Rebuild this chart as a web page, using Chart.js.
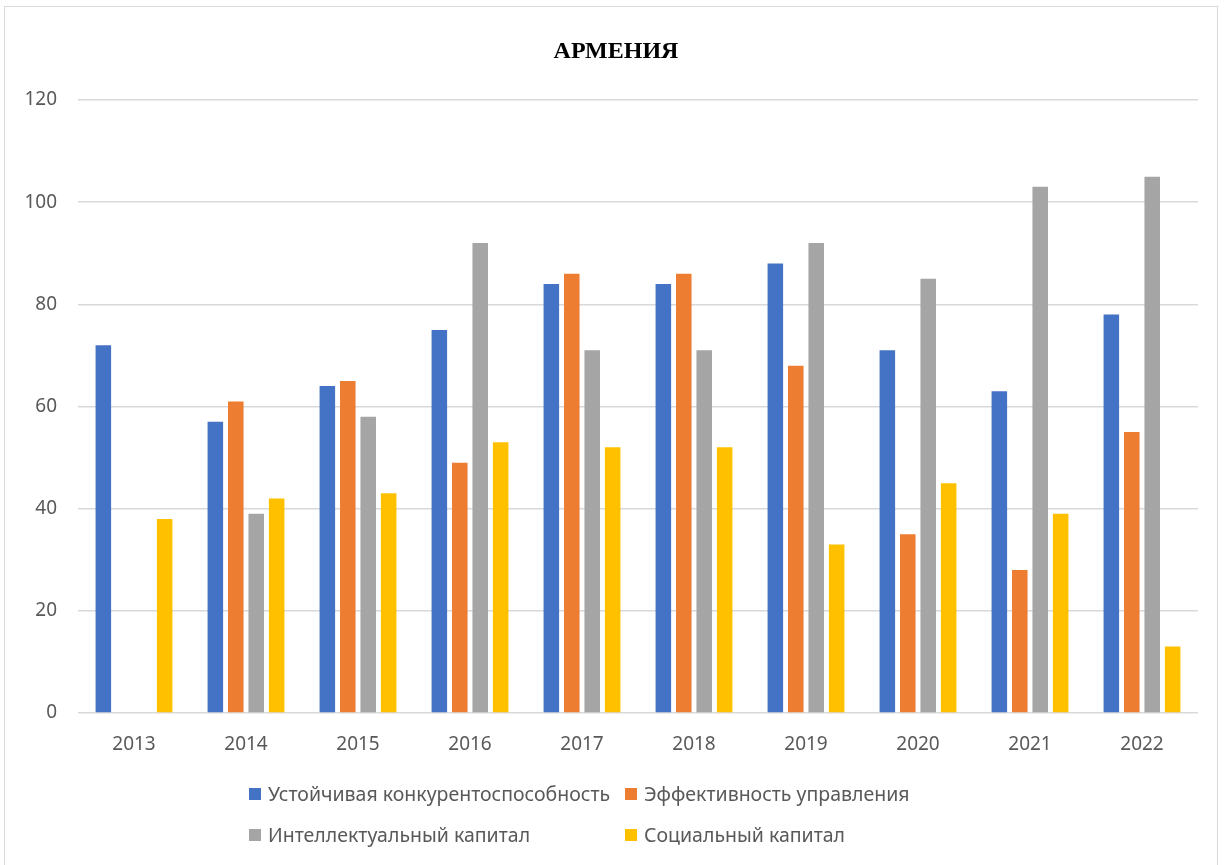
<!DOCTYPE html>
<html>
<head>
<meta charset="utf-8">
<script src="https://cdn.jsdelivr.net/npm/chart.js@4/dist/chart.umd.min.js"></script>
<style>
  html, body { margin: 0; padding: 0; background: #fff; }
  #wrap { position: relative; width: 1224px; height: 865px; overflow: hidden; }
  #frame { position: absolute; left: 4px; top: 6px; width: 1214px; height: 880px; border: 1px solid #d9d9d9; box-sizing: border-box; }
  #chart { position: absolute; left: 0; top: 0; }
  #legend { position: absolute; left: 249px; top: 780px; width: 800px; }
  .item { position: absolute; display: flex; align-items: center; white-space: nowrap;
          font-family: "Noto Sans", sans-serif; font-size: 19.5px; color: #595959; }
  .box { width: 12px; height: 12px; margin-right: 7px; }
</style>
</head>
<body>
<div id="wrap">
  <div id="frame"></div>
  <canvas id="chart" width="1224" height="865"></canvas>
  <div id="legend"></div>
</div>
<script>
// Данные диаграммы
const years = ['2013', '2014', '2015', '2016', '2017', '2018', '2019', '2020', '2021', '2022'];
const competitiveness = [72, 57, 64, 75, 84, 84, 88, 71, 63, 78];
const governance = [null, 61, 65, 49, 86, 86, 68, 35, 28, 55];
const intellectual = [null, 39, 58, 92, 71, 71, 92, 85, 103, 105];
const social = [38, 42, 43, 53, 52, 52, 33, 45, 39, 13];
const yTicks = [0, 20, 40, 60, 80, 100, 120];

const seriesNames = ['Устойчивая конкурентоспособность', 'Эффективность управления', 'Интеллектуальный капитал', 'Социальный капитал'];
const seriesColors = ['#4472C4', '#ED7D31', '#A5A5A5', '#FFC000'];
const seriesData = [competitiveness, governance, intellectual, social];
const titleText = 'АРМЕНИЯ';

// Заголовок рисуем сами: в оригинале он по центру всей рамки, а не области графика
const titlePlugin = {
    id: 'centerTitle',
    afterDraw(chart) {
        const c = chart.ctx;
        c.save();
        c.font = 'bold 24px "Liberation Serif"';
        c.fillStyle = '#000';
        c.textAlign = 'center';
        c.textBaseline = 'middle';
        c.fillText(titleText, 616, 52);
        c.restore();
    }
};

const ctx = document.getElementById('chart').getContext('2d');

const chart = new Chart(ctx, {
    type: 'bar',
    data: {
        labels: years,
        datasets: seriesData.map((d, i) => ({
            label: seriesNames[i],
            data: d,
            backgroundColor: seriesColors[i],
            categoryPercentage: 0.73,
            barPercentage: 0.76
        }))
    },
    options: {
        responsive: false,
        animation: false,
        devicePixelRatio: 1,
        layout: { padding: { left: 0, right: 26, top: 100, bottom: 112 } },
        scales: {
            x: {
                grid: { display: false, drawTicks: false },
                border: { display: false },
                ticks: { color: '#595959', padding: 20, font: { family: 'Noto Sans', size: 19 } },
                afterFit: (s) => { s.height = 40; }
            },
            y: {
                min: 0,
                max: 120,
                afterBuildTicks: (s) => { s.ticks = yTicks.map(v => ({ value: v })); },
                grid: { color: '#d9d9d9', lineWidth: 1.5, drawTicks: false },
                border: { display: false },
                ticks: { color: '#595959', padding: 21, font: { family: 'Noto Sans', size: 19 } },
                afterFit: (s) => { s.width = 78; }
            }
        },
        plugins: {
            legend: { display: false },
            tooltip: { enabled: false },
            title: { display: false }
        }
    },
    plugins: [titlePlugin]
});

// Легенда в две колонки, как в оригинале
const legend = document.getElementById('legend');
chart.data.datasets.forEach((ds, i) => {
    const item = document.createElement('div');
    item.className = 'item';
    item.style.left = (i % 2 === 0 ? 0 : 376) + 'px';
    item.style.top = (i < 2 ? 0 : 41) + 'px';
    item.innerHTML = '<span class="box" style="background:' + ds.backgroundColor + '"></span>' + ds.label;
    legend.appendChild(item);
});
</script>
</body>
</html>
